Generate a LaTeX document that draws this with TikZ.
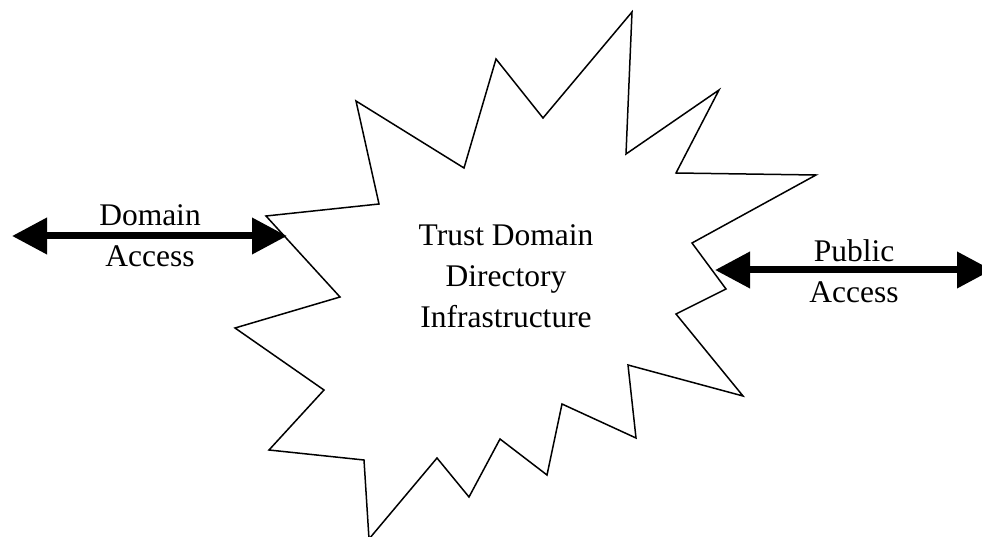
\documentclass[tikz,border=0pt]{standalone}
\usepackage{fontspec}
\setmainfont{Liberation Serif}
\usetikzlibrary{arrows.meta}

\tikzset{
  burst/.style={draw=black, line width=1.5pt, line join=miter, fill=white},
  access/.style={line width=7pt, {Triangle[length=35pt,width=35pt]}-{Triangle[length=35pt,width=35pt]}},
  label/.style={font=\fontsize{31.5}{41}\selectfont, align=center, inner sep=0pt, anchor=base},
}

\begin{document}
\begin{tikzpicture}[x=1pt, y=-1pt]
  \useasboundingbox (0,0) rectangle (982,537);

  % the starburst outline of the directory infrastructure
  \draw[burst] (266,216) -- (379,204) -- (356,101) -- (464,168) -- (496,59)
    -- (543,118) -- (632,12) -- (626,154) -- (719,90) -- (676,173)
    -- (816,175) -- (692,243) -- (726,289) -- (676,314) -- (743,396)
    -- (628,365) -- (636,438) -- (562,404) -- (547,475) -- (500,439)
    -- (469,497) -- (437,458) -- (369,539) -- (364,460) -- (269,450)
    -- (324,390) -- (235,328) -- (340,297) -- cycle;

  % base anchor sits on the last line of each label
  \node[label] (core) at (506,327) {Trust Domain\\Directory\\Infrastructure};

  % access arrows on either side
  \coordinate (dl) at (12,236);
  \coordinate (dr) at (287,236);
  \coordinate (pl) at (715,270);
  \coordinate (pr) at (992,270);
  \draw[access] (dl) -- (dr);
  \draw[access] (pl) -- (pr);

  \node[label] (domain) at (150,267) {Domain\\Access};
  \node[label] (public) at (854,302) {Public\\Access};
\end{tikzpicture}
\end{document}
